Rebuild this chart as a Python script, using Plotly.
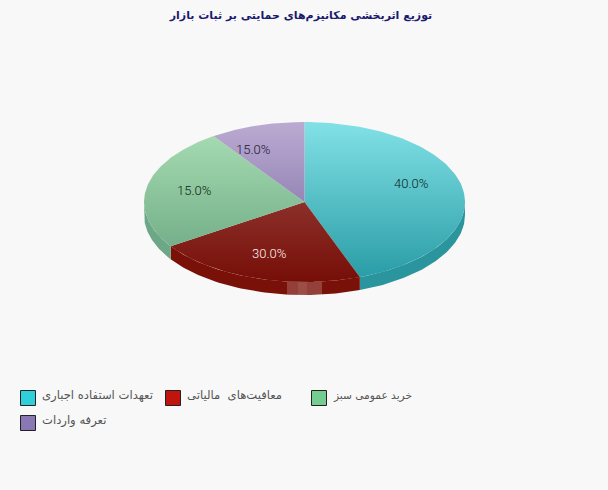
import math
import plotly.graph_objects as go

categories = ["تعهدات استفاده اجباری", "معافیت‌های  مالیاتی", "خرید عمومی سبز", "تعرفه واردات"]
# Share of the drawn pie occupied by each slice
drawn_shares = [44.4, 21.3, 24.7, 9.6]
# Percentages printed on the slices
printed_labels = ["40.0%", "30.0%", "15.0%", "15.0%"]
swatch_colors = ["#2ECFD9", "#C0150F", "#74CC90", "#8A78B4"]
top_colors = ["#82E1E6", "#8C302A", "#A5DAB0", "#BBABD2"]
bottom_colors = ["#2A9DA6", "#760E07", "#74B08A", "#9686B6"]
side_colors = ["#2A959D", "#7A1109", "#6CA887", "#8F80AE"]
label_colors = ["#0A1F20", "#FBF4F2", "#0C2414", "#1A1630"]
label_pos = [(411, 183), (269, 253), (194, 190), (253, 149)]
legend_pos = [(28, 398), (173, 398), (319, 398), (28, 423)]
legend_sizes = [11.6, 11.6, 10.6, 11.6]

CX, CY, RX, RY, DEPTH = 304.5, 202, 160.5, 80, 13
FONT = "DejaVu Sans"
fig = go.Figure()


def edge(a):
    return CX + RX * math.sin(a), CY - RY * math.cos(a)


starts = []
acc = 0.0
total = sum(drawn_shares)
for v in drawn_shares:
    starts.append(acc)
    acc += v / total * 2 * math.pi
ends = starts[1:] + [2 * math.pi]

# side wall (visible only on the near half)
for i in range(4):
    a0 = max(starts[i], math.pi / 2)
    a1 = min(ends[i], 3 * math.pi / 2)
    if a1 <= a0:
        continue
    n = 60
    pts = [edge(a0 + (a1 - a0) * k / n) for k in range(n + 1)]
    xs = [p[0] for p in pts] + [p[0] for p in reversed(pts)] + [pts[0][0]]
    ys = [p[1] for p in pts] + [p[1] + DEPTH for p in reversed(pts)] + [pts[0][1]]
    fig.add_trace(go.Scatter(x=xs, y=ys, mode="lines", fill="toself", fillcolor=side_colors[i],
                             line=dict(width=0, color=side_colors[i]), showlegend=False, hoverinfo="skip"))

# top surface
for i in range(4):
    n = 120
    pts = [edge(starts[i] + (ends[i] - starts[i]) * k / n) for k in range(n + 1)]
    xs = [CX] + [p[0] for p in pts] + [CX]
    ys = [CY] + [p[1] for p in pts] + [CY]
    fig.add_trace(go.Scatter(
        x=xs, y=ys, mode="lines", fill="toself",
        fillgradient=dict(type="vertical", start=min(ys), stop=max(ys),
                          colorscale=[[0, top_colors[i]], [1, bottom_colors[i]]]),
        line=dict(width=0, color=bottom_colors[i]), showlegend=False,
        name=categories[i], hovertemplate=categories[i] + ": " + printed_labels[i] + "<extra></extra>"))

# legend swatches
for i in range(4):
    fig.add_trace(go.Scatter(x=[legend_pos[i][0]], y=[legend_pos[i][1]], mode="markers", name=categories[i],
                             showlegend=False, hoverinfo="skip",
                             marker=dict(symbol="square", size=15, color=swatch_colors[i],
                                         line=dict(color="#222222", width=1))))

annotations = [dict(x=p[0], y=p[1], text=t, showarrow=False, xref="x", yref="y",
                    font=dict(family="Roboto", size=13, color=c, weight=300))
               for p, t, c in zip(label_pos, printed_labels, label_colors)]
annotations += [dict(x=p[0] + 12, y=p[1] - 3, text=t, showarrow=False, xref="x", yref="y", xanchor="left",
                     font=dict(family=FONT, size=s, color="#555555"))
                for p, t, s in zip(legend_pos, categories, legend_sizes)]

shapes = [
    dict(type="rect", xref="x", yref="y", x0=287, x1=322, y0=282, y1=295,
         fillcolor="rgba(255,255,255,0.20)", line_width=0),
    dict(type="rect", xref="x", yref="y", x0=298, x1=307, y0=282, y1=295,
         fillcolor="rgba(255,255,255,0.07)", line_width=0),
]

fig.update_layout(
    width=608, height=490, autosize=False,
    margin=dict(l=0, r=0, t=0, b=0),
    paper_bgcolor="#F8F8F8", plot_bgcolor="#F8F8F8",
    showlegend=False,
    xaxis=dict(range=[0, 608], visible=False, fixedrange=True),
    yaxis=dict(range=[490, 0], visible=False, fixedrange=True),
    title=dict(text="<b>توزیع اثربخشی مکانیزم‌های حمایتی بر ثبات بازار</b>", x=301 / 608, xanchor="center",
               y=1 - 15 / 490, yanchor="middle", font=dict(family=FONT, size=11, color="#1A1A6E")),
    annotations=annotations, shapes=shapes,
)
fig.write_html("out.html", config={"displayModeBar": False},
               post_script="document.body.style.margin='0';document.body.style.background='#F8F8F8';")
